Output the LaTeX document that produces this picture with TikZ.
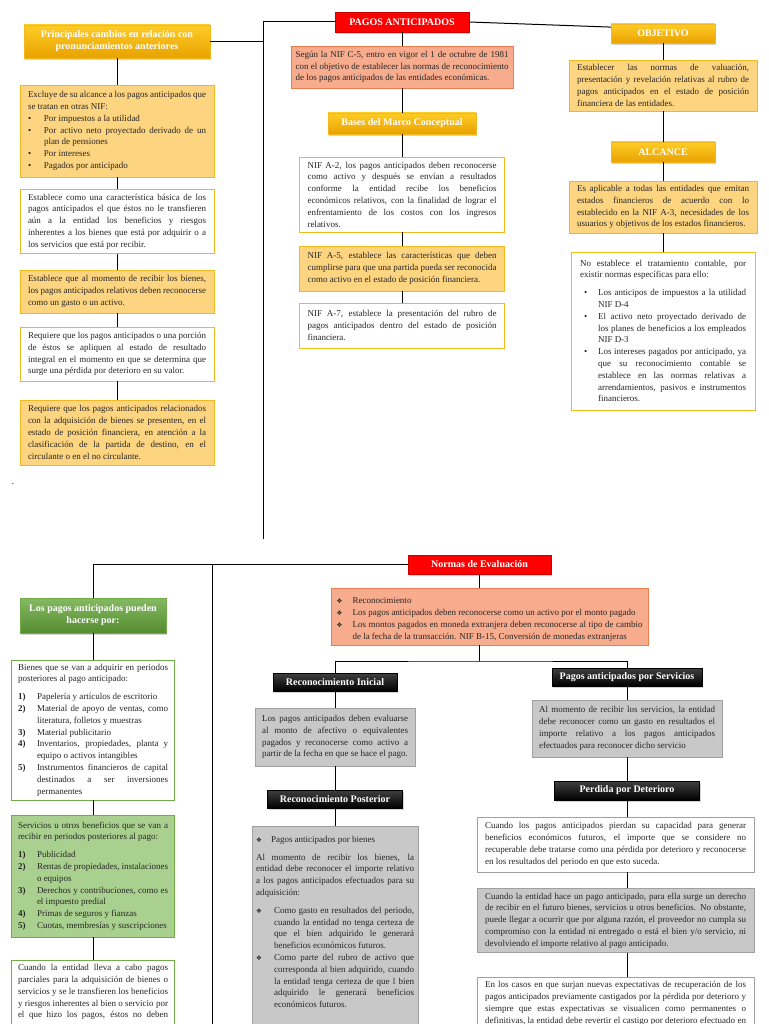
\documentclass[tikz,border=0pt]{standalone}
\usepackage{fontspec}
\setmainfont{Liberation Serif}
\newfontfamily\symfont{DejaVu Sans}
\usetikzlibrary{shadows, positioning}

\definecolor{goldtop}{RGB}{255,204,38}
\definecolor{goldbot}{RGB}{232,162,0}
\definecolor{goldline}{RGB}{242,184,30}
\definecolor{goldfill}{RGB}{253,212,128}
\definecolor{salmonfill}{RGB}{248,172,142}
\definecolor{salmonline}{RGB}{236,124,76}
\definecolor{greenfill}{RGB}{169,208,142}
\definecolor{greenline}{RGB}{112,173,71}
\definecolor{greendark}{RGB}{84,140,48}
\definecolor{grayfill}{RGB}{200,200,200}
\definecolor{grayline}{RGB}{160,160,160}
\definecolor{redhead}{RGB}{255,0,0}
\definecolor{inktext}{RGB}{38,38,38}

% no hyphens, lines broken where the original breaks them
\hyphenpenalty=10000
\exhyphenpenalty=10000
\newcommand{\boxfont}{\fontsize{9}{11.8}\selectfont\spaceskip=0.25em plus 1em minus 0.1em\tolerance=9000\emergencystretch=2em\relax}
\newcommand{\brk}{\linebreak}
\newcommand{\fullpar}{\parfillskip=0pt\par}

% hanging items inside the boxes
\newlength{\itmw}
\newcommand{\itm}[3][16pt]{\par\setlength{\itmw}{#1}\hangindent=\itmw\hangafter=1\noindent\makebox[\itmw][l]{#2}#3\par}
\newcommand{\dia}{{\symfont\fontsize{6.5}{6.5}\selectfont ❖}}

\tikzset{
  hdr/.style={font=\fontsize{10}{12}\selectfont\bfseries, text=white, align=center, inner sep=2pt,
    drop shadow={shadow xshift=1.2pt, shadow yshift=-1.6pt, opacity=0.35}},
  goldhdr/.style={hdr, draw=goldline, top color=goldtop, bottom color=goldbot},
  redhdr/.style={hdr, draw=red!80!black, fill=redhead},
  greenhdr/.style={hdr, draw=greenline, top color=greenline!85!white, bottom color=greendark},
  blackhdr/.style={hdr, draw=black, top color=black!75, bottom color=black},
  txtbox/.style={font=\boxfont, text=inktext, align=justify,
    inner xsep=8pt, inner ysep=4pt, line width=0.8pt},
  goldbox/.style={txtbox, draw=goldline, fill=goldfill},
  whitebox/.style={txtbox, draw=goldline, fill=white},
  salmonbox/.style={txtbox, draw=salmonline, fill=salmonfill},
  greenbox/.style={txtbox, draw=greenline, fill=greenfill},
  wgreenbox/.style={txtbox, draw=greenline, fill=white},
  graybox/.style={txtbox, draw=grayline, fill=grayfill},
  wgraybox/.style={txtbox, draw=grayline, fill=white},
  link/.style={line width=1pt, black}
}

\begin{document}
\begin{tikzpicture}[x=1pt, y=-1pt]

  \useasboundingbox (0,0) rectangle (768,1024);

  % Top left column
  \node[goldhdr, minimum width=186, minimum height=33] (princ) at (117,41.5)
    {Principales cambios en relación con\\pronunciamientos anteriores};
  \node[goldbox, text width=178pt, minimum height=92] (excl) at (117,131)
    {Excluye de su alcance a los pagos anticipados que \brk se tratan en otras NIF:
     \itm{\textbullet}{Por impuestos a la utilidad}
     \itm{\textbullet}{Por activo neto proyectado derivado de un \brk plan de pensiones}
     \itm{\textbullet}{Por intereses}
     \itm{\textbullet}{Pagados por anticipado}};
  \node[whitebox, text width=178pt, minimum height=63] (basica) at (117,221.5)
    {Establece como una característica básica de los \brk pagos anticipados el que éstos no le transfieren \brk aún a la entidad los beneficios y riesgos \brk inherentes a los bienes que está por adquirir o a \brk los servicios que está por recibir.};
  \node[goldbox, text width=178pt, minimum height=43] (recibe) at (117,291.5)
    {Establece que al momento de recibir los bienes, \brk los pagos anticipados relativos deben reconocerse \brk como un gasto o un activo.};
  \node[whitebox, text width=178pt, minimum height=54] (deter) at (117,354)
    {Requiere que los pagos anticipados o una porción \brk de éstos se apliquen al estado de resultado \brk integral en el momento en que se determina que \brk surge una pérdida por deterioro en su valor.};
  \node[goldbox, text width=178pt, minimum height=65] (clasif) at (117,432.5)
    {Requiere que los pagos anticipados relacionados \brk con la adquisición de bienes se presenten, en el \brk estado de posición financiera, en atención a la \brk clasificación de la partida de destino, en el \brk circulante o en el no circulante.};
  \node[font=\fontsize{8.8}{10}\selectfont, inner sep=0pt] (dot) at (13,484) {.};

  % Top middle column
  \node[redhdr, minimum width=134, minimum height=20] (pagos) at (402,22) {PAGOS ANTICIPADOS};
  \node[salmonbox, text width=213pt, inner xsep=4.5pt, minimum height=42] (segun) at (402,67)
    {Según la NIF C-5, entro en vigor el 1 de octubre de 1981 \brk con el objetivo de establecer las normas de reconocimiento \brk de los pagos anticipados de las entidades económicas.};
  \node[goldhdr, minimum width=148, minimum height=21] (bases) at (402,123.5) {Bases del Marco Conceptual};
  \node[whitebox, text width=189pt, minimum height=75] (nifa2) at (402,194.5)
    {NIF A-2, los pagos anticipados deben reconocerse \brk como activo y después se envían a resultados \brk conforme la entidad recibe los beneficios \brk económicos relativos, con la finalidad de lograr el \brk enfrentamiento de los costos con los ingresos \brk relativos.};
  \node[goldbox, text width=189pt, minimum height=45] (nifa5) at (402,268.5)
    {NIF A-5, establece las características que deben \brk cumplirse para que una partida pueda ser reconocida \brk como activo en el estado de posición financiera.};
  \node[whitebox, text width=189pt, minimum height=45] (nifa7) at (402,325.5)
    {NIF A-7, establece la presentación del rubro de \brk pagos anticipados dentro del estado de posición \brk financiera.};

  % Top right column
  \node[goldhdr, minimum width=104, minimum height=19] (objetivo) at (663,33.5) {OBJETIVO};
  \node[goldbox, text width=172pt, minimum height=51] (establecer) at (663,85.5)
    {Establecer las normas de valuación, \brk presentación y revelación relativas al rubro de \brk pagos anticipados en el estado de posición \brk financiera de las entidades.};
  \node[goldhdr, minimum width=104, minimum height=20] (alcance) at (663,152) {ALCANCE};
  \node[goldbox, text width=172pt, minimum height=52] (aplica) at (663,207)
    {Es aplicable a todas las entidades que emitan \brk estados financieros de acuerdo con lo \brk establecido en la NIF A-3, necesidades de los \brk usuarios y objetivos de los estados financieros.};
  \node[whitebox, text width=166pt, inner xsep=9pt, minimum height=158] (noest) at (663,331)
    {No establece el tratamiento contable, por \brk existir normas específicas para ello:\par\vspace{6pt}
     \itm[18pt]{\hspace{4pt}\textbullet}{Los anticipos de impuestos a la utilidad \brk NIF D-4}
     \itm[18pt]{\hspace{4pt}\textbullet}{El activo neto proyectado derivado de \brk los planes de beneficios a los empleados \brk NIF D-3}
     \itm[18pt]{\hspace{4pt}\textbullet}{Los intereses pagados por anticipado, ya \brk que su reconocimiento contable se \brk establece en las normas relativas a \brk arrendamientos, pasivos e instrumentos \brk financieros.}};

  % Bottom: evaluation rules
  \node[redhdr, minimum width=143, minimum height=19] (normas) at (479.5,564.5) {Normas de Evaluación};
  \node[salmonbox, text width=306pt, inner xsep=5.5pt, minimum height=57] (bull) at (489.5,616.5)
    {\itm{\dia}{Reconocimiento}
     \itm{\dia}{Los pagos anticipados deben reconocerse como un activo por el monto pagado}
     \itm{\dia}{Los montos pagados en moneda extranjera deben reconocerse al tipo de cambio \brk de la fecha de la transacción. NIF B-15, Conversión de monedas extranjeras}};

  % Bottom left column
  \node[greenhdr, minimum width=146, minimum height=35] (green) at (93,615.5)
    {Los pagos anticipados pueden\\hacerse por:};
  \node[wgreenbox, text width=150pt, inner xsep=6.5pt, inner ysep=3pt, minimum height=140] (bienes) at (93,730)
    {Bienes que se van a adquirir en periodos \brk posteriores al pago anticipado:\par\vspace{6pt}
     \itm[19pt]{\textbf{1)}}{Papelería y artículos de escritorio}
     \itm[19pt]{\textbf{2)}}{Material de apoyo de ventas, como \brk literatura, folletos y muestras}
     \itm[19pt]{\textbf{3)}}{Material publicitario}
     \itm[19pt]{\textbf{4)}}{Inventarios, propiedades, planta y \brk equipo o activos intangibles}
     \itm[19pt]{\textbf{5)}}{Instrumentos financieros de capital \brk destinados a ser inversiones \brk permanentes}};
  \node[greenbox, text width=150pt, inner xsep=6.5pt, inner ysep=3pt, minimum height=122] (servs) at (93,876)
    {Servicios u otros beneficios que se van a \brk recibir en periodos posteriores al pago:\par\vspace{6pt}
     \itm[19pt]{\textbf{1)}}{Publicidad}
     \itm[19pt]{\textbf{2)}}{Rentas de propiedades, instalaciones \brk o equipos}
     \itm[19pt]{\textbf{3)}}{Derechos y contribuciones, como es \brk el impuesto predial}
     \itm[19pt]{\textbf{4)}}{Primas de seguros y fianzas}
     \itm[19pt]{\textbf{5)}}{Cuotas, membresías y suscripciones}};
  \node[wgreenbox, text width=150pt, inner xsep=6.5pt, anchor=north] (cuando) at (93,960)
    {Cuando la entidad lleva a cabo pagos \brk parciales para la adquisición de bienes o \brk servicios y se le transfieren los beneficios \brk y riesgos inherentes al bien o servicio por \brk el que hizo los pagos, éstos no deben\fullpar\rule{0pt}{20pt}};

  % Bottom middle column
  \node[blackhdr, minimum width=124, minimum height=18] (inicial) at (335,682) {Reconocimiento Inicial};
  \node[graybox, text width=146pt, inner xsep=7pt, minimum height=58] (inicialtxt) at (335,737)
    {Los pagos anticipados deben evaluarse \brk al monto de afectivo o equivalentes \brk pagados y reconocerse como activo a \brk partir de la fecha en que se hace el pago.};
  \node[blackhdr, minimum width=135, minimum height=18] (posterior) at (335,799) {Reconocimiento Posterior};
  \node[graybox, text width=158pt, inner xsep=4pt, anchor=north] (posteriortxt) at (335,826)
    {\itm[15pt]{\dia}{Pagos anticipados por bienes}\vspace{6pt}
     Al momento de recibir los bienes, la \brk entidad debe reconocer el importe relativo \brk a los pagos anticipados efectuados para su \brk adquisición:\par\vspace{6pt}
     \itm[18pt]{\dia}{Como gasto en resultados del periodo, \brk cuando la entidad no tenga certeza de \brk que el bien adquirido le generará \brk beneficios económicos futuros.}
     \itm[18pt]{\dia}{Como parte del rubro de activo que \brk corresponda al bien adquirido, cuando \brk la entidad tenga certeza de que l bien \brk adquirido le generará beneficios \brk económicos futuros.}
     \rule{0pt}{24pt}};

  % Bottom right column
  \node[blackhdr, minimum width=150, minimum height=18] (servhd) at (627,677) {Pagos anticipados por Servicios};
  \node[graybox, text width=176pt, inner xsep=7pt, minimum height=57] (servtxt) at (627,728.5)
    {Al momento de recibir los servicios, la entidad \brk debe reconocer como un gasto en resultados el \brk importe relativo a los pagos anticipados \brk efectuados para reconocer dicho servicio};
  \node[blackhdr, minimum width=145, minimum height=19] (perdida) at (627,790.5) {Perdida por Deterioro};
  \node[wgraybox, text width=261pt, minimum height=55] (imp1) at (615.5,844.5)
    {Cuando los pagos anticipados pierdan su capacidad para generar \brk beneficios económicos futuros, el importe que se considere no \brk recuperable debe tratarse como una pérdida por deterioro y reconocerse \brk en los resultados del periodo en que esto suceda.};
  \node[graybox, text width=261pt, minimum height=63] (imp2) at (615.5,920.5)
    {Cuando la entidad hace un pago anticipado, para ella surge un derecho \brk de recibir en el futuro bienes, servicios u otros beneficios. No obstante, \brk puede llegar a ocurrir que por alguna razón, el proveedor no cumpla su \brk compromiso con la entidad ni entregado o está el bien y/o servicio, ni \brk devolviendo el importe relativo al pago anticipado.};
  \node[wgraybox, text width=261pt, anchor=north] (imp3) at (615.5,977)
    {En los casos en que surjan nuevas expectativas de recuperación de los \brk pagos anticipados previamente castigados por la pérdida por deterioro y \brk siempre que estas expectativas se visualicen como permanentes o \brk definitivas, la entidad debe revertir el castigo por deterioro efectuado en\fullpar\rule{0pt}{12pt}};

  % Draw the connectors inside each column
  \foreach \a/\b in {princ/excl, excl/basica, basica/recibe, recibe/deter, deter/clasif,
                     pagos/segun, segun/bases, bases/nifa2, nifa2/nifa5, nifa5/nifa7,
                     objetivo/establecer, establecer/alcance, alcance/aplica, aplica/noest,
                     green/bienes, bienes/servs, servs/cuando,
                     inicial/inicialtxt, inicialtxt/posterior, posterior/posteriortxt,
                     servhd/servtxt, servtxt/perdida} {
    \draw[link] (\a) -- (\b);
  }
  \draw[link] (perdida.south) -- (perdida.south |- imp1.north);
  \draw[link] (imp1.south -| perdida) -- (imp2.north -| perdida);
  \draw[link] (imp2.south -| perdida) -- (imp3.north -| perdida);

  % Draw the trunk lines of the top part
  \coordinate (trunk) at (263,539);
  \draw[link] (pagos.west) -| (trunk);
  \draw[link] (princ.east) -- (princ.east -| trunk);
  \draw[link] (pagos.east) -- (objetivo.173);

  % Draw the branches of the bottom part
  \coordinate (split) at (479.5,661);
  \coordinate (drop) at (212,1024);
  \draw[link] (normas.south) -- (normas.south |- bull.north);
  \draw[link] (normas.west) -| (green.north);
  \draw[link] (drop |- normas.west) -- (drop);
  \draw[link] (split |- bull.south) -- (split);
  \draw[link] (inicial.north) |- (split) -| (servhd.north);

\end{tikzpicture}
\end{document}
